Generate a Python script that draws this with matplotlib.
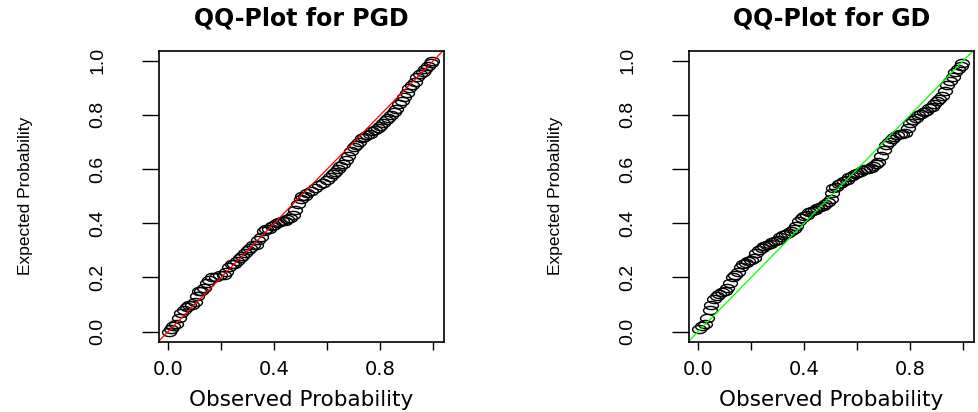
import matplotlib
matplotlib.use("Agg")
import matplotlib.pyplot as plt
from matplotlib import font_manager
from matplotlib.path import Path
from matplotlib.transforms import Affine2D

# observed vs expected probabilities
pgd_obs = [0.005, 0.01, 0.02, 0.03, 0.04, 0.05, 0.06, 0.07, 0.08, 0.09,
           0.1, 0.11, 0.115, 0.125, 0.135, 0.145, 0.155, 0.165, 0.18, 0.195,
           0.21, 0.22, 0.23, 0.24, 0.25, 0.26, 0.27, 0.28, 0.29, 0.3,
           0.31, 0.32, 0.33, 0.34, 0.35, 0.36, 0.37, 0.38, 0.39, 0.4,
           0.41, 0.42, 0.43, 0.44, 0.45, 0.46, 0.47, 0.48, 0.49, 0.5,
           0.505, 0.515, 0.525, 0.54, 0.555, 0.57, 0.585, 0.6, 0.61, 0.62,
           0.63, 0.64, 0.65, 0.66, 0.67, 0.68, 0.69, 0.7, 0.71, 0.72,
           0.73, 0.74, 0.75, 0.76, 0.77, 0.78, 0.79, 0.8, 0.81, 0.82,
           0.83, 0.84, 0.85, 0.86, 0.87, 0.88, 0.89, 0.9, 0.91, 0.92,
           0.93, 0.94, 0.95, 0.96, 0.97, 0.98, 0.99, 0.995]
pgd_exp = [0.0, 0.01, 0.02, 0.03, 0.05, 0.07, 0.08, 0.09, 0.1, 0.1,
           0.11, 0.13, 0.15, 0.15, 0.16, 0.18, 0.19, 0.2, 0.2, 0.21,
           0.21, 0.22, 0.24, 0.25, 0.25, 0.26, 0.27, 0.28, 0.29, 0.3,
           0.31, 0.32, 0.32, 0.34, 0.35, 0.37, 0.38, 0.38, 0.39, 0.395,
           0.4, 0.405, 0.41, 0.41, 0.415, 0.42, 0.43, 0.45, 0.47, 0.49,
           0.5, 0.5, 0.51, 0.52, 0.53, 0.54, 0.55, 0.56, 0.57, 0.58,
           0.59, 0.6, 0.61, 0.62, 0.635, 0.65, 0.665, 0.68, 0.69, 0.7,
           0.715, 0.72, 0.725, 0.73, 0.74, 0.745, 0.75, 0.76, 0.77, 0.78,
           0.79, 0.8, 0.81, 0.82, 0.84, 0.85, 0.865, 0.88, 0.9, 0.91,
           0.92, 0.94, 0.95, 0.96, 0.97, 0.98, 0.99, 1.0]

gd_obs = [0.005, 0.015, 0.025, 0.035, 0.045, 0.05, 0.06, 0.07, 0.08, 0.09,
          0.1, 0.11, 0.12, 0.13, 0.14, 0.15, 0.16, 0.17, 0.18, 0.19,
          0.2, 0.21, 0.22, 0.23, 0.24, 0.25, 0.26, 0.27, 0.28, 0.29,
          0.3, 0.31, 0.32, 0.33, 0.34, 0.35, 0.36, 0.37, 0.38, 0.39,
          0.4, 0.41, 0.42, 0.43, 0.44, 0.45, 0.46, 0.47, 0.48, 0.49,
          0.5, 0.505, 0.51, 0.52, 0.53, 0.54, 0.55, 0.56, 0.57, 0.58,
          0.59, 0.6, 0.61, 0.62, 0.63, 0.64, 0.65, 0.66, 0.67, 0.68,
          0.69, 0.7, 0.71, 0.72, 0.73, 0.74, 0.75, 0.76, 0.77, 0.78,
          0.79, 0.8, 0.81, 0.82, 0.83, 0.84, 0.85, 0.86, 0.87, 0.88,
          0.89, 0.9, 0.91, 0.92, 0.93, 0.94, 0.95, 0.96, 0.97, 0.98,
          0.99, 0.995]
gd_exp = [0.01, 0.02, 0.03, 0.05, 0.08, 0.1, 0.12, 0.13, 0.14, 0.145,
          0.15, 0.16, 0.18, 0.2, 0.21, 0.22, 0.24, 0.25, 0.255, 0.26,
          0.265, 0.27, 0.29, 0.3, 0.31, 0.315, 0.32, 0.325, 0.33, 0.335,
          0.34, 0.35, 0.355, 0.36, 0.365, 0.37, 0.38, 0.39, 0.41, 0.42,
          0.425, 0.43, 0.44, 0.445, 0.45, 0.455, 0.46, 0.465, 0.47, 0.48,
          0.49, 0.51, 0.53, 0.535, 0.545, 0.55, 0.555, 0.56, 0.57, 0.575,
          0.58, 0.585, 0.59, 0.595, 0.6, 0.6, 0.605, 0.61, 0.62, 0.625,
          0.65, 0.67, 0.69, 0.7, 0.71, 0.72, 0.725, 0.73, 0.73, 0.735,
          0.75, 0.77, 0.78, 0.79, 0.8, 0.805, 0.81, 0.815, 0.825, 0.83,
          0.84, 0.85, 0.86, 0.87, 0.89, 0.91, 0.925, 0.94, 0.96, 0.97,
          0.98, 0.99]

x_ticks = [0.0, 0.2, 0.4, 0.6, 0.8, 1.0]
x_ticklabels = ["0.0", "", "0.4", "", "0.8", ""]
y_ticks = [0.0, 0.2, 0.4, 0.6, 0.8, 1.0]
y_ticklabels = ["0.0", "0.2", "0.4", "0.6", "0.8", "1.0"]

panels = [("QQ-Plot for PGD", pgd_obs, pgd_exp, "#ff0000"),
          ("QQ-Plot for GD", gd_obs, gd_exp, "#00ff00")]

installed = {f.name for f in font_manager.fontManager.ttflist}
narrow = "Liberation Sans Narrow" if "Liberation Sans Narrow" in installed else "Liberation Sans"

# R output looks stretched sideways, so circles become flat ellipses
ellipse = Path.unit_circle().transformed(Affine2D().scale(1.7, 1.0))

fig = plt.figure(figsize=(9.79, 4.12), dpi=100)
lefts = [0.1627, 0.7041]

for (title, obs, exp, line_col), left in zip(panels, lefts):
    ax = fig.add_axes([left, 0.1707, 0.2905, 0.7063])
    ax.plot(obs, exp, linestyle="none", marker=ellipse, markersize=10,
            markerfacecolor="none", markeredgecolor="black", markeredgewidth=1.0)
    ax.axline((0, 0), slope=1, color=line_col, linewidth=0.9)
    ax.set_xlim(-0.033, 1.039)
    ax.set_ylim(-0.037, 1.037)

    for sp in ax.spines.values():
        sp.set_linewidth(1.2)

    ax.set_xticks(x_ticks)
    ax.set_xticklabels(x_ticklabels, fontsize=14, family="DejaVu Sans")
    ax.set_yticks(y_ticks)
    ax.set_yticklabels(y_ticklabels, fontsize=14, family=narrow,
                       rotation=90, va="center")
    ax.tick_params(axis="x", length=6, width=1.0, pad=7)
    ax.tick_params(axis="y", length=12, width=1.0, pad=26)

    ax.set_title(title, fontsize=17, fontweight="bold", pad=18)
    ax.set_xlabel("Observed Probability", fontsize=15.5, va="center")
    ax.xaxis.set_label_coords(0.5, -0.2)
    ax.set_ylabel("Expected Probability", fontsize=12.5, family=narrow,
                  va="center")
    ax.yaxis.set_label_coords(-0.47, 0.5)

fig.savefig("out.png", dpi=100)
